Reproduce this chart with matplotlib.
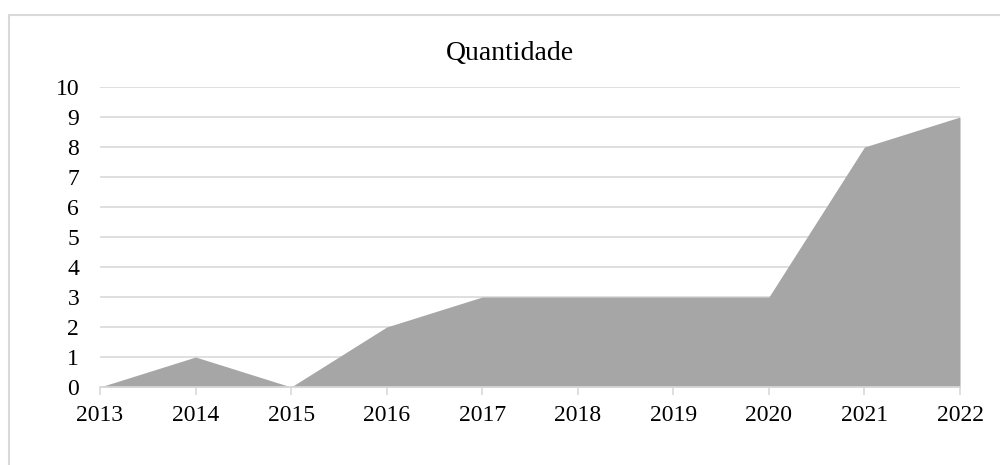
import matplotlib.pyplot as plt
from matplotlib.patches import Rectangle

# Données
years = [2013, 2014, 2015, 2016, 2017, 2018, 2019, 2020, 2021, 2022]
quantidade = [0, 1, 0, 2, 3, 3, 3, 3, 8, 9]

plt.rcParams['font.family'] = ['Liberation Serif', 'DejaVu Serif']

fig = plt.figure(figsize=(10, 4.65), dpi=100)
ax = fig.add_axes([0.1, 1 - 387 / 465, 0.86, 300 / 465])

x = list(range(len(years)))
ax.fill_between(x, quantidade, 0, color='#a6a6a6', linewidth=0, zorder=2)

ax.set_xlim(0, len(years) - 1)
ax.set_ylim(0, 10)
ax.set_yticks(range(0, 11))
ax.set_xticks(x)
ax.set_xticklabels([str(y) for y in years])

ax.grid(axis='y', color='#d9d9d9', linewidth=1.2, zorder=1)
ax.set_axisbelow(True)
for s in ['top', 'right', 'left']:
    ax.spines[s].set_visible(False)
ax.spines['bottom'].set_color('#d9d9d9')
ax.spines['bottom'].set_linewidth(1.2)
ax.spines['bottom'].set_zorder(3)

ax.tick_params(axis='y', length=0, pad=15, labelsize=17)
ax.tick_params(axis='x', length=6, width=1.2, color='#d9d9d9', pad=7, labelsize=17)

fig.text(0.51, 1 - 54 / 465, 'Quantidade', ha='center', va='center', fontsize=20)

# Cadre extérieur
fig.patches.append(Rectangle((9 / 1000, -0.1), 1.1, 1 + 0.1 - 15 / 465,
                             transform=fig.transFigure, fill=False,
                             edgecolor='#d9d9d9', linewidth=1.5))

fig.savefig('out.png', dpi=100)
